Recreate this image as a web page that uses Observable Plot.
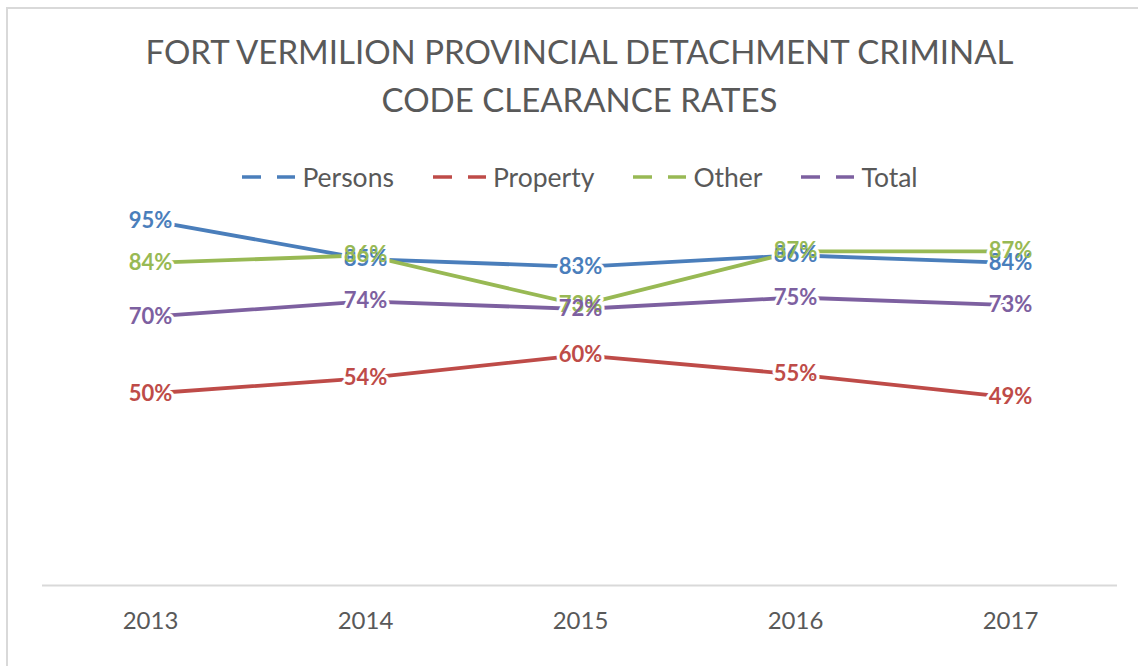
<!DOCTYPE html>
<html>
<head>
<meta charset="utf-8">
<script src="https://cdn.jsdelivr.net/npm/d3@7"></script>
<script src="https://cdn.jsdelivr.net/npm/@observablehq/plot@0.6"></script>
<style>
  html, body { margin: 0; padding: 0; background: #fff; }
  #wrap { position: relative; width: 1138px; height: 666px; overflow: hidden; font-family: Lato, "Noto Sans", sans-serif; background: #fff; }
  #frame { position: absolute; left: 6px; top: 7px; width: 1200px; height: 700px; border-top: 2px solid #d9d9d9; border-left: 2px solid #d9d9d9; box-sizing: border-box; }
  #title { position: absolute; left: 42px; width: 1075px; top: 27px; text-align: center; font-size: 33px; line-height: 48px; color: #595959; }
  #legend { position: absolute; left: 0; width: 1160px; top: 162px; height: 30px; display: flex; justify-content: center; align-items: center; gap: 39px; z-index: 2; }
  .item { display: flex; align-items: center; gap: 7px; font-size: 26.5px; color: #595959; }
  #chart { position: absolute; left: 0; top: 140px; z-index: 1; }
  #chart svg { background: transparent !important; }
</style>
</head>
<body>
<div id="wrap">
  <div id="frame"></div>
  <div id="title">FORT VERMILION PROVINCIAL DETACHMENT CRIMINAL<br>CODE CLEARANCE RATES</div>
  <div id="legend"></div>
  <div id="chart"></div>
</div>
<script>
const years = ["2013", "2014", "2015", "2016", "2017"];
const seriesNames = ["Persons", "Property", "Other", "Total"];
const seriesColors = ["#4a7ebb", "#be4b48", "#98b954", "#7d60a0"];
const persons = [95, 85, 83, 86, 84];
const property = [50, 54, 60, 55, 49];
const other = [84, 86, 73, 87, 87];
const total = [70, 74, 72, 75, 73];

const seriesValues = [persons, property, other, total];
const rows = [];
seriesNames.forEach((name, i) => {
  years.forEach((yr, j) => rows.push({ series: name, year: yr, value: seriesValues[i][j] }));
});

// Legend
const legend = document.getElementById("legend");
seriesNames.forEach((name, i) => {
  const item = document.createElement("div");
  item.className = "item";
  item.innerHTML = `<svg width="53" height="10"><line x1="0" x2="19" y1="5" y2="5" stroke="${seriesColors[i]}" stroke-width="3.5"/><line x1="35" x2="53" y1="5" y2="5" stroke="${seriesColors[i]}" stroke-width="3.5"/></svg><span>${name}</span>`;
  legend.appendChild(item);
});

const labelFont = { fontSize: 22, fontWeight: "bold" };

const chart = Plot.plot({
  width: 1138,
  height: 526,
  marginLeft: 42,
  marginRight: 21,
  marginTop: 0,
  marginBottom: 81,
  style: { fontFamily: "Lato, 'Noto Sans', sans-serif", background: "transparent" },
  x: { type: "point", domain: years, range: [42, 1117], padding: 0.5, label: null },
  y: { domain: [0, 100], range: [445, 61], axis: null },
  color: { domain: seriesNames, range: seriesColors },
  marks: [
    Plot.ruleY([0], { stroke: "#d9d9d9", strokeWidth: 2 }),
    Plot.axisX({ tickSize: 0, tickPadding: 26, fontSize: 24, color: "#595959", label: null }),
    Plot.line(rows, { x: "year", y: "value", stroke: "series", strokeWidth: 3.8 }),
    Plot.text(rows, { x: "year", y: "value", text: d => d.value + "%", fill: "white", stroke: "white", strokeWidth: 6, ...labelFont }),
    Plot.text(rows, { x: "year", y: "value", text: d => d.value + "%", fill: "series", ...labelFont })
  ]
});
document.getElementById("chart").appendChild(chart);
</script>
</body>
</html>
